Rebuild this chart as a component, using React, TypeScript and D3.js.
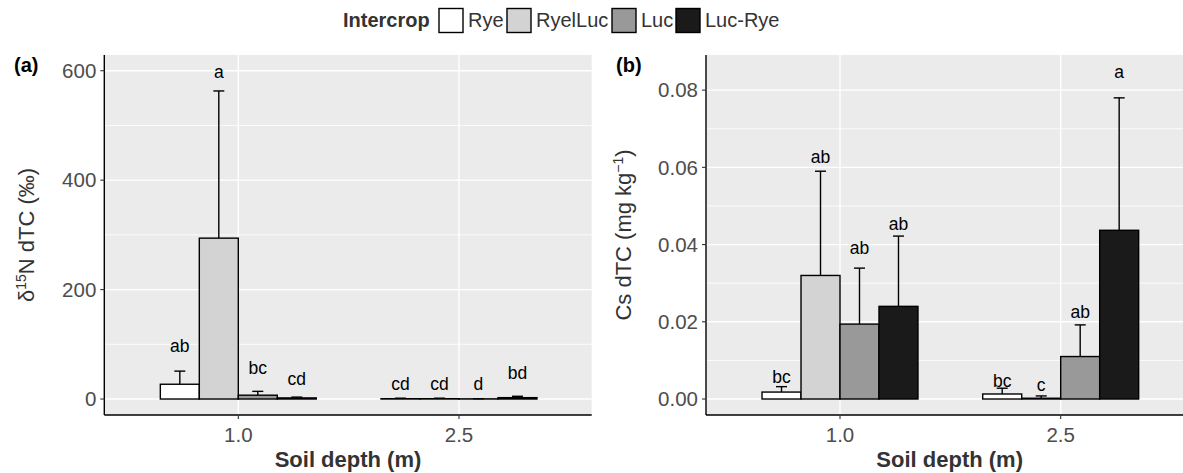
import React from 'react';
import * as d3 from 'd3';

const depths = [1.0, 2.5];
const crops = ['Rye', 'RyelLuc', 'Luc', 'Luc-Rye'];
const cropFill = ['#FFFFFF', '#D3D3D3', '#999999', '#1A1A1A'];

// panel (a): d15N dTC, one row per depth, columns follow crops
const n15Mean = [[27, 294, 7, 2], [0.6, 0.6, 0.3, 2.5]];
const n15Upper = [[51, 563, 14, 3.5], [1.5, 1.5, 0.6, 5]];
const n15Letters = [['ab', 'a', 'bc', 'cd'], ['cd', 'cd', 'd', 'bd']];
const n15LetterY = [[86, 586, 46, 26], [16.5, 16.5, 16.5, 36]];
const n15Ticks = [0, 200, 400, 600];
const n15Minor = [100, 300, 500];

// panel (b): Cs dTC
const csMean = [[0.0018, 0.032, 0.0194, 0.024], [0.0013, 0.0002, 0.011, 0.0437]];
const csUpper = [[0.0032, 0.059, 0.0339, 0.0422], [0.0028, 0.0008, 0.0192, 0.078]];
const csLetters = [['bc', 'ab', 'ab', 'ab'], ['bc', 'c', 'ab', 'a']];
const csLetterY = [[0.0041, 0.0611, 0.0375, 0.0437], [0.0032, 0.0021, 0.021, 0.0831]];
const csTicks = [0, 0.02, 0.04, 0.06, 0.08];
const csMinor = [0.01, 0.03, 0.05, 0.07];

const W = 1183;
const H = 473;
const FONT = '"Liberation Sans", Arial, Helvetica, sans-serif';
const TOP = 55;
const BOTTOM = 415;
const BAR_W = 0.265;

function Panel(props) {
  const { x0, x1, yDomain, mean, upper, letters, letterY, ticks, minor, fmt, tag, yTitle, titleX } = props;
  const x = d3.scaleLinear().domain([0.0892, 3.402]).range([x0, x1]);
  const y = d3.scaleLinear().domain(yDomain).range([BOTTOM, TOP]);
  const bw = x(BAR_W) - x(0);
  const cx = (x0 + x1) / 2;

  return (
    <g>
      <rect x={x0} y={TOP} width={x1 - x0} height={BOTTOM - TOP} fill="#EBEBEB" />
      {minor.map((t) => (
        <line key={'m' + t} x1={x0} x2={x1} y1={y(t)} y2={y(t)} stroke="#fff" strokeWidth={0.8} />
      ))}
      {ticks.map((t) => (
        <line key={'g' + t} x1={x0} x2={x1} y1={y(t)} y2={y(t)} stroke="#fff" strokeWidth={1.4} />
      ))}
      {depths.map((d) => (
        <line key={'v' + d} x1={x(d)} x2={x(d)} y1={TOP} y2={BOTTOM} stroke="#fff" strokeWidth={1.4} />
      ))}

      {depths.map((d, di) =>
        crops.map((c, ci) => {
          const left = x(d + (ci - 2) * BAR_W);
          const mid = left + bw / 2;
          const top = y(mean[di][ci]);
          const errTop = y(upper[di][ci]);
          return (
            <g key={c + d}>
              <line x1={mid} x2={mid} y1={top} y2={errTop} stroke="#000" strokeWidth={1.4} />
              <line x1={mid - 5.5} x2={mid + 5.5} y1={errTop} y2={errTop} stroke="#000" strokeWidth={1.4} />
              <rect x={left} y={top} width={bw} height={Math.max(y(0) - top, 0)}
                fill={cropFill[ci]} stroke="#000" strokeWidth={1.4} />
              <text x={mid} y={y(letterY[di][ci])} textAnchor="middle" fontSize={17.5} fill="#000">
                {letters[di][ci]}
              </text>
            </g>
          );
        })
      )}

      <line x1={x0} x2={x0} y1={TOP} y2={BOTTOM} stroke="#000" strokeWidth={1.4} />
      <line x1={x0} x2={x1} y1={BOTTOM} y2={BOTTOM} stroke="#000" strokeWidth={1.4} />

      {ticks.map((t) => (
        <g key={'t' + t}>
          <line x1={x0 - 4} x2={x0} y1={y(t)} y2={y(t)} stroke="#333" strokeWidth={1.1} />
          <text x={x0 - 8} y={y(t)} dy="0.35em" textAnchor="end" fontSize={20.5} fill="#4D4D4D">
            {fmt(t)}
          </text>
        </g>
      ))}
      {depths.map((d) => (
        <g key={'xt' + d}>
          <line x1={x(d)} x2={x(d)} y1={BOTTOM} y2={BOTTOM + 4} stroke="#333" strokeWidth={1.1} />
          <text x={x(d)} y={442} textAnchor="middle" fontSize={20.5} fill="#4D4D4D">
            {d3.format('.1f')(d)}
          </text>
        </g>
      ))}

      <text x={cx} y={466.5} textAnchor="middle" fontSize={22} fontWeight="bold" fill="#333">
        Soil depth (m)
      </text>
      <text transform={`translate(${titleX},${(TOP + BOTTOM) / 2}) rotate(-90)`} textAnchor="middle"
        fontSize={22} fill="#333">
        {yTitle}
      </text>
      <text x={tag[0]} y={tag[1]} fontSize={20} fontWeight="bold" fill="#000">
        {tag[2]}
      </text>
    </g>
  );
}

function Legend() {
  const boxX = [439, 507, 612, 676];
  const textX = [468, 536, 641, 705];
  return (
    <g>
      <text x={343} y={27} fontSize={20} fontWeight="bold" fill="#333">Intercrop</text>
      {crops.map((c, i) => (
        <g key={c}>
          <rect x={boxX[i]} y={8.5} width={24} height={24} fill={cropFill[i]} stroke="#000" strokeWidth={1.4} />
          <text x={textX[i]} y={27} fontSize={20} fill="#333">{c}</text>
        </g>
      ))}
    </g>
  );
}

export default function App() {
  return (
    <svg width={W} height={H} fontFamily={FONT}
      style={{ position: 'absolute', left: 0, top: 0, background: '#fff' }}>
      <Legend />
      <Panel
        x0={104.3} x1={591.7}
        yDomain={[-29.2, 628.7]}
        mean={n15Mean} upper={n15Upper} letters={n15Letters} letterY={n15LetterY}
        ticks={n15Ticks} minor={n15Minor} fmt={d3.format('d')}
        tag={[14, 72, '(a)']}
        titleX={34}
        yTitle={
          <>
            δ<tspan dy={-8} fontSize={14}>15</tspan>
            <tspan dy={8}>N dTC (‰)</tspan>
          </>
        }
      />
      <Panel
        x0={706} x1={1193.4}
        yDomain={[-0.00414, 0.0891]}
        mean={csMean} upper={csUpper} letters={csLetters} letterY={csLetterY}
        ticks={csTicks} minor={csMinor} fmt={d3.format('.2f')}
        tag={[616, 72, '(b)']}
        titleX={631}
        yTitle={
          <>
            Cs dTC (mg kg<tspan dy={-8} fontSize={14}>−1</tspan>
            <tspan dy={8}>)</tspan>
          </>
        }
      />
    </svg>
  );
}
